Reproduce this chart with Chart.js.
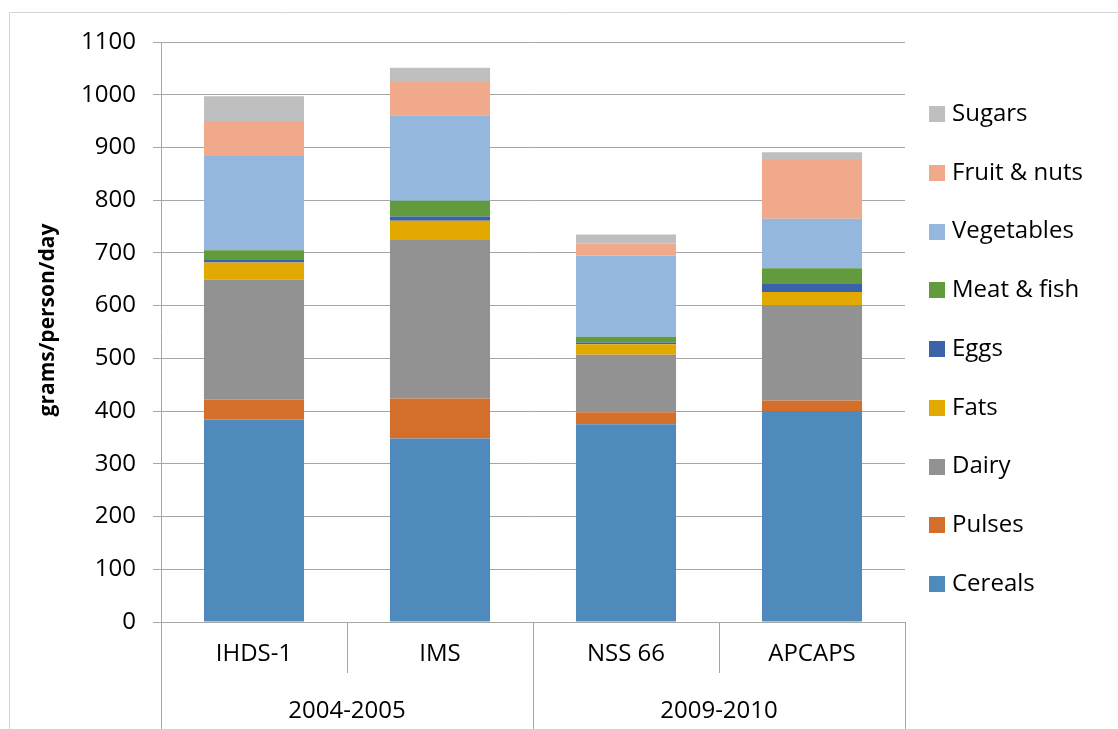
<!DOCTYPE html>
<html>
<head>
<meta charset="utf-8">
<title>Food intake by survey</title>
<script src="https://cdn.jsdelivr.net/npm/chart.js@4.4.1/dist/chart.umd.min.js"></script>
<style>
  html, body { margin: 0; padding: 0; background: #ffffff; }
  #wrap { width: 1118px; height: 729px; position: relative; }
</style>
</head>
<body>
<div id="wrap"><canvas id="chart" width="1118" height="729"></canvas></div>
<script>
// Surveys (first-level categories) and the period each belongs to
const surveys = ['IHDS-1', 'IMS', 'NSS 66', 'APCAPS'];
const surveyPeriod = [0, 0, 1, 1];
const periods = ['2004-2005', '2009-2010'];

// Y axis range
const yMin = 0;
const yMax = 1100;
const yStep = 100;
const yTitle = 'grams/person/day';

// grams/person/day by food group
const cereals    = [384, 348, 375, 400];
const pulses     = [38, 76, 23, 20];
const dairy      = [227, 302, 109, 181];
const fats       = [33, 35, 20, 25];
const eggs       = [6, 8, 3, 15];
const meatFish   = [17, 30, 11, 30];
const vegetables = [179, 162, 154, 94];
const fruitNuts  = [66, 63, 23, 111];
const sugars     = [47, 27, 17, 15];

const FONT = '"Open Sans", "Noto Sans", sans-serif';
const FONT_SIZE = 24;
const TEXT = '#000000';
const LINE = '#a6a6a6';

const series = [
  { label: 'Cereals',      data: cereals,    color: '#4f8abd' },
  { label: 'Pulses',       data: pulses,     color: '#d36f2b' },
  { label: 'Dairy',        data: dairy,      color: '#929292' },
  { label: 'Fats',         data: fats,       color: '#e2a900' },
  { label: 'Eggs',         data: eggs,       color: '#3b63ac' },
  { label: 'Meat & fish',  data: meatFish,   color: '#629a3e' },
  { label: 'Vegetables',   data: vegetables, color: '#95b7de' },
  { label: 'Fruit & nuts', data: fruitNuts,  color: '#f0a98a' },
  { label: 'Sugars',       data: sugars,     color: '#bfbfbf' }
];

// Outer frame, y-axis title, period row with separators, and the legend
const decorations = {
  id: 'decorations',
  beforeDraw(chart) {
    const ctx = chart.ctx;
    ctx.save();
    ctx.fillStyle = '#ffffff';
    ctx.fillRect(0, 0, chart.width, chart.height);
    ctx.strokeStyle = '#d4d4d4';
    ctx.lineWidth = 1;
    ctx.beginPath();
    ctx.moveTo(9.5, chart.height);
    ctx.lineTo(9.5, 12.5);
    ctx.lineTo(chart.width, 12.5);
    ctx.stroke();
    ctx.restore();
  },
  afterDraw(chart) {
    const ctx = chart.ctx;
    const area = chart.chartArea;
    const x = chart.scales.x;
    const bottom = chart.height;
    const half = (x.getPixelForValue(1) - x.getPixelForValue(0)) / 2;

    ctx.save();
    // category boundaries below the axis
    ctx.strokeStyle = LINE;
    ctx.lineWidth = 1;
    for (let i = 0; i <= surveys.length; i++) {
      const px = Math.round(i < surveys.length ? x.getPixelForValue(i) - half : x.getPixelForValue(i - 1) + half) + 0.5;
      const periodEdge = i === 0 || i === surveys.length || surveyPeriod[i] !== surveyPeriod[i - 1];
      ctx.beginPath();
      ctx.moveTo(px, area.bottom);
      ctx.lineTo(px, periodEdge ? bottom : area.bottom + 51);
      ctx.stroke();
    }

    // period labels centred under their surveys
    ctx.fillStyle = TEXT;
    ctx.font = FONT_SIZE + 'px ' + FONT;
    ctx.textAlign = 'center';
    ctx.textBaseline = 'middle';
    periods.forEach((p, k) => {
      const idx = surveyPeriod.map((v, i) => v === k ? i : -1).filter(i => i >= 0);
      const left = x.getPixelForValue(idx[0]) - half;
      const right = x.getPixelForValue(idx[idx.length - 1]) + half;
      ctx.fillText(p, (left + right) / 2, area.bottom + 89);
    });

    // y-axis title
    ctx.save();
    ctx.translate(48, (area.top + area.bottom) / 2 - 12);
    ctx.rotate(-Math.PI / 2);
    ctx.font = 'bold 21px ' + FONT;
    ctx.fillText(yTitle, 0, 0);
    ctx.restore();

    // legend, top entry is the top stack segment
    const items = chart.data.datasets.slice().reverse();
    const lx = area.right + 24;
    const top = 114;
    const gap = 58.75;
    ctx.textAlign = 'left';
    ctx.font = FONT_SIZE + 'px ' + FONT;
    items.forEach((ds, i) => {
      const cy = top + i * gap;
      ctx.fillStyle = ds.backgroundColor;
      ctx.fillRect(lx, Math.round(cy - 8), 16, 16);
      ctx.fillStyle = TEXT;
      ctx.fillText(ds.label, lx + 23, cy);
    });
    ctx.restore();
  }
};

new Chart(document.getElementById('chart'), {
  type: 'bar',
  data: {
    labels: surveys,
    datasets: series.map(s => ({
      label: s.label,
      data: s.data,
      backgroundColor: s.color,
      borderWidth: 0,
      barPercentage: 0.538,
      categoryPercentage: 1.0
    }))
  },
  options: {
    responsive: false,
    animation: false,
    devicePixelRatio: 1,
    layout: { padding: { left: 0, right: 213, top: 42, bottom: 0 } },
    plugins: {
      legend: { display: false },
      tooltip: { enabled: false }
    },
    scales: {
      x: {
        stacked: true,
        grid: { display: false, drawTicks: false },
        border: { display: false },
        ticks: {
          color: TEXT,
          font: { family: FONT, size: FONT_SIZE },
          padding: 18,
          maxRotation: 0,
          autoSkip: false
        },
        afterFit(scale) { scale.height = 107; }
      },
      y: {
        stacked: true,
        min: yMin,
        max: yMax,
        grid: { color: LINE, lineWidth: 1, tickLength: 8, drawTicks: true },
        border: { display: true, color: LINE, width: 1 },
        ticks: {
          stepSize: yStep,
          color: TEXT,
          font: { family: FONT, size: FONT_SIZE },
          padding: 17,
          callback: v => String(v)
        },
        afterFit(scale) { scale.width = 161; }
      }
    }
  },
  plugins: [decorations]
});
</script>
</body>
</html>
